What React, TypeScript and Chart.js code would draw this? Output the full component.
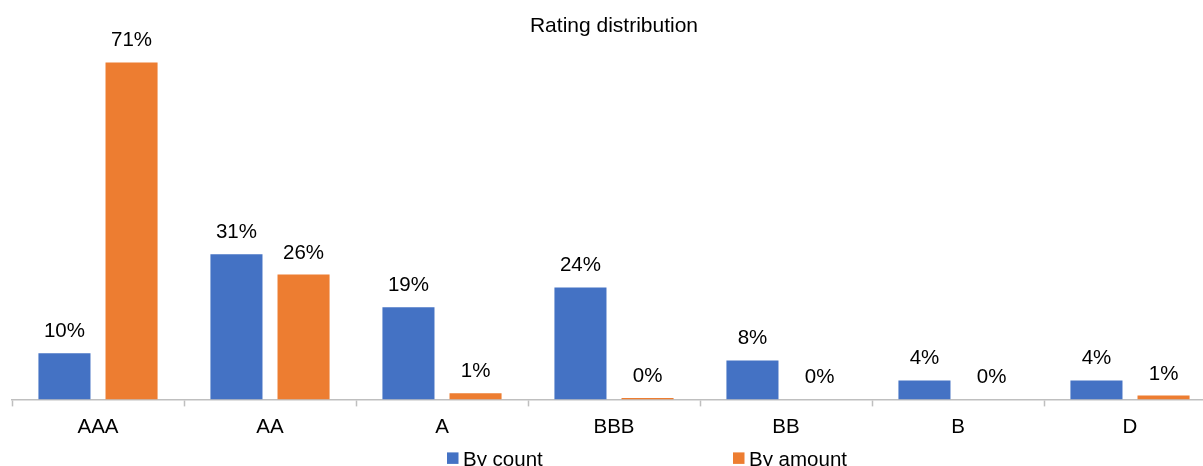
import React, { useEffect, useRef } from "react";
import { Chart, registerables } from "chart.js";

Chart.register(...registerables);

const categories = ["AAA", "AA", "A", "BBB", "BB", "B", "D"];
const byCount = [9.7, 30.6, 19.4, 23.6, 8.2, 4.0, 4.0];
const byAmount = [71.0, 26.3, 1.3, 0.3, 0.0, 0.0, 0.8];
const seriesNames = ["By count", "By amount"];
const seriesColors = ["#4472C4", "#ED7D31"];
const titleText = "Rating distribution";

const FONT = "'Liberation Sans', Arial, sans-serif";
const FS = 20.5;

const dataLabelPlugin = {
  id: "dataLabels",
  afterDatasetsDraw(chart: any) {
    const ctx = chart.ctx;
    ctx.save();
    ctx.font = `${FS}px ${FONT}`;
    ctx.fillStyle = "#000";
    ctx.textAlign = "center";
    ctx.textBaseline = "alphabetic";
    chart.data.datasets.forEach((ds: any, i: number) => {
      const meta = chart.getDatasetMeta(i);
      meta.data.forEach((el: any, j: number) => {
        const v = ds.data[j];
        ctx.fillText(`${Math.round(v)}%`, el.x, el.y - 16);
      });
    });
    ctx.restore();
  },
};

const legendPlugin = {
  id: "customLegend",
  afterDraw(chart: any) {
    const ctx = chart.ctx;
    const cx = chart.width / 2;
    const offsets = [-167, 119];
    const top = chart.chartArea.bottom + 53;
    ctx.save();
    ctx.font = `${FS}px ${FONT}`;
    ctx.textAlign = "left";
    ctx.textBaseline = "alphabetic";
    chart.data.datasets.forEach((ds: any, i: number) => {
      const x = cx + offsets[i];
      ctx.fillStyle = ds.backgroundColor;
      ctx.fillRect(x, top, 11.5, 11.5);
      ctx.fillStyle = "#000";
      ctx.fillText(ds.label, x + 16, top + 13.5);
    });
    ctx.restore();
  },
};

export default function App() {
  const ref = useRef<HTMLCanvasElement | null>(null);
  useEffect(() => {
    if (!ref.current) return;
    const chart = new Chart(ref.current, {
      type: "bar",
      data: {
        labels: categories,
        datasets: [
          {
            label: seriesNames[0],
            data: byCount,
            backgroundColor: seriesColors[0],
            categoryPercentage: 0.78,
            barPercentage: 0.776,
          },
          {
            label: seriesNames[1],
            data: byAmount,
            backgroundColor: seriesColors[1],
            categoryPercentage: 0.78,
            barPercentage: 0.776,
          },
        ],
      },
      options: {
        responsive: true,
        maintainAspectRatio: false,
        animation: false,
        layout: { padding: { left: 12, right: 12, top: 0, bottom: 31 } },
        plugins: {
          legend: { display: false },
          tooltip: { enabled: false },
          title: {
            display: true,
            text: titleText,
            color: "#000",
            font: { family: FONT, size: 21, weight: "normal" },
            padding: { top: 14, bottom: 9 },
          },
        },
        scales: {
          x: {
            grid: {
              display: true,
              drawOnChartArea: false,
              drawTicks: true,
              tickLength: 7,
              tickWidth: 1.5,
              color: "#BFBFBF",
              offset: true,
            },
            border: { display: true, color: "#BFBFBF", width: 1.5 },
            ticks: {
              color: "#000",
              font: { family: FONT, size: FS },
              padding: 9,
            },
          },
          y: { display: false, min: 0, max: 74 },
        },
      },
      plugins: [dataLabelPlugin, legendPlugin],
    });
    return () => chart.destroy();
  }, []);

  return (
    <div
      style={{
        position: "fixed",
        left: 0,
        top: 0,
        width: 1203,
        height: 466,
        overflow: "hidden",
        background: "#fff",
      }}
    >
      <div style={{ position: "relative", width: 1228, height: 480 }}>
        <canvas ref={ref} />
      </div>
    </div>
  );
}
